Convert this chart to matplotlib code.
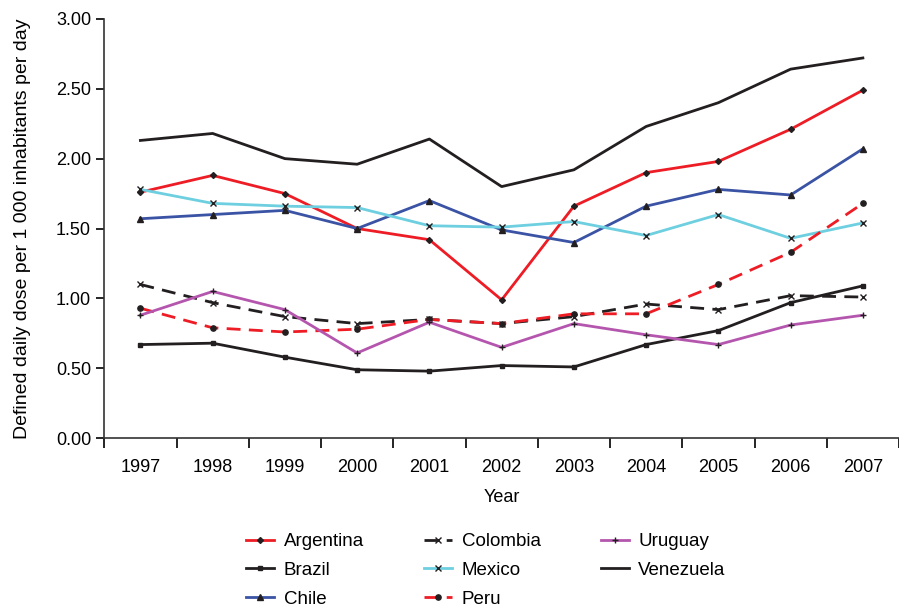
import numpy as np
import matplotlib.pyplot as plt

plt.rcParams["font.family"] = ["Liberation Sans", "DejaVu Sans"]

years = [1997, 1998, 1999, 2000, 2001, 2002, 2003, 2004, 2005, 2006, 2007]

argentina = [1.76, 1.88, 1.75, 1.50, 1.42, 0.99, 1.66, 1.90, 1.98, 2.21, 2.49]
brazil = [0.67, 0.68, 0.58, 0.49, 0.48, 0.52, 0.51, 0.67, 0.77, 0.97, 1.09]
chile = [1.57, 1.60, 1.63, 1.50, 1.70, 1.49, 1.40, 1.66, 1.78, 1.74, 2.07]
colombia = [1.10, 0.97, 0.87, 0.82, 0.85, 0.82, 0.87, 0.96, 0.92, 1.02, 1.01]
mexico = [1.78, 1.68, 1.66, 1.65, 1.52, 1.51, 1.55, 1.45, 1.60, 1.43, 1.54]
peru = [0.93, 0.79, 0.76, 0.78, 0.85, 0.82, 0.89, 0.89, 1.10, 1.33, 1.68]
uruguay = [0.88, 1.05, 0.92, 0.61, 0.83, 0.65, 0.82, 0.74, 0.67, 0.81, 0.88]
venezuela = [2.13, 2.18, 2.00, 1.96, 2.14, 1.80, 1.92, 2.23, 2.40, 2.64, 2.72]

RED = "#ee1c25"
BLACK = "#231f20"
BLUE = "#3a53a4"
CYAN = "#6dcfdf"
PURPLE = "#b556ae"

series = [
    ("Argentina", argentina, RED, "-", "D", 3.0),
    ("Brazil", brazil, BLACK, "-", "s", 3.4),
    ("Chile", chile, BLUE, "-", "^", 3.8),
    ("Colombia", colombia, BLACK, "--", "x", 3.8),
    ("Mexico", mexico, CYAN, "-", "x", 3.8),
    ("Peru", peru, RED, "--", "o", 3.8),
    ("Uruguay", uruguay, PURPLE, "-", "+", 4.4),
    ("Venezuela", venezuela, BLACK, "-", None, 0),
]

fig = plt.figure(figsize=(8.99, 6.07), dpi=100)
ax = fig.add_axes([0.116, 0.278, 0.884, 0.691])

x = np.arange(len(years))
for name, vals, color, ls, marker, ms in series:
    ax.plot(x, vals, color=color, linestyle=ls, linewidth=2, label=name,
            marker=marker, markersize=ms, markeredgecolor=BLACK,
            markerfacecolor=BLACK, markeredgewidth=1.0,
            dashes=(5, 3) if ls == "--" else (None, None))

ax.set_xlim(-0.5, len(years) - 0.5)
ax.set_ylim(0, 3.0)
yt = np.arange(0, 3.01, 0.5)
ax.set_yticks(yt)
ax.set_yticklabels([f"{v:.2f}" for v in yt], fontsize=13)

# boundaries get the tick marks, centres get the labels
ax.set_xticks(np.arange(-0.5, len(years) + 0.5, 1.0))
ax.set_xticklabels([])
ax.set_xticks(x, minor=True)
ax.set_xticklabels([str(y) for y in years], minor=True, fontsize=13)
ax.tick_params(axis="x", which="minor", length=0, pad=15)
ax.tick_params(axis="x", which="major", length=7, width=1.2, direction="out")
ax.tick_params(axis="y", length=6, width=1.2)

for s in ["top", "right"]:
    ax.spines[s].set_visible(False)
for s in ["left", "bottom"]:
    ax.spines[s].set_linewidth(1.2)
    ax.spines[s].set_color("#333333")

ax.set_xlabel("Year", fontsize=13, labelpad=9)
ax.set_ylabel("Defined daily dose per 1 000 inhabitants per day", fontsize=14, labelpad=18)

fig.legend(loc="upper left", bbox_to_anchor=(0.274, 0.122), ncol=3, frameon=False,
           fontsize=13.5, handlelength=1.5, handletextpad=0.5, columnspacing=3.2,
           labelspacing=0.62, borderaxespad=0, borderpad=0)

fig.savefig("out.png", dpi=100)
